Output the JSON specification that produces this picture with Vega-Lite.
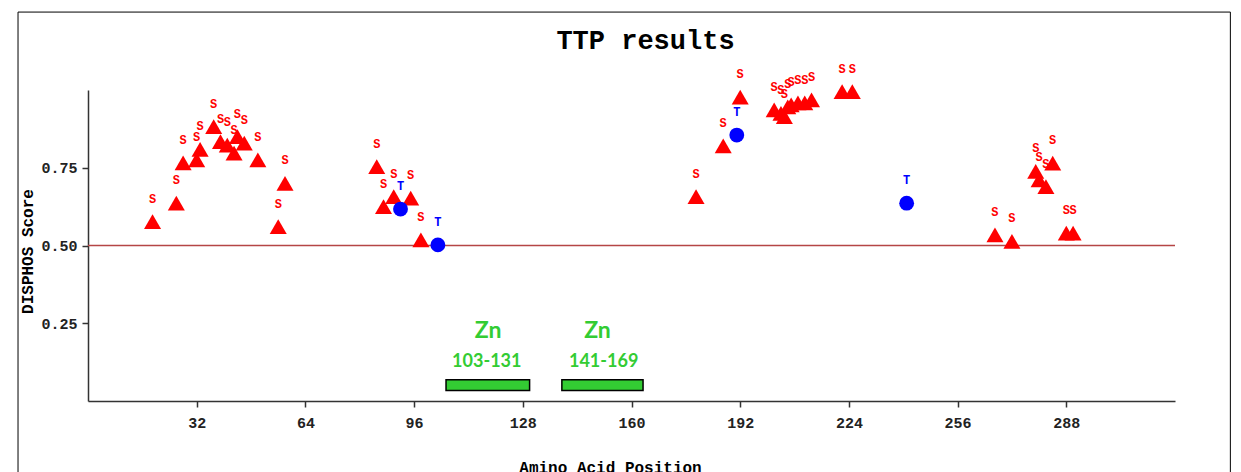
{
  "$schema": "https://vega.github.io/schema/vega-lite/v6.json",
  "width": 1087,
  "height": 311,
  "autosize": {"type": "none"},
  "padding": {"left": 88, "top": 90, "right": 66, "bottom": 71},
  "background": "white",
  "config": {"view": {"stroke": null}, "font": "Liberation Mono"},
  "title": {"text": "TTP results", "font": "Liberation Mono", "fontSize": 27, "fontWeight": "bold", "color": "#000000", "frame": "group", "anchor": "middle", "offset": -64, "baseline": "alphabetic", "dx": 14},
  "datasets": {
    "sites": [
      {"pos": 19, "score": 0.577, "res": "S"},
      {"pos": 26, "score": 0.636, "res": "S"},
      {"pos": 28, "score": 0.766, "res": "S"},
      {"pos": 32, "score": 0.775, "res": "S"},
      {"pos": 33, "score": 0.809, "res": "S"},
      {"pos": 37, "score": 0.882, "res": "S"},
      {"pos": 39, "score": 0.834, "res": "S"},
      {"pos": 41, "score": 0.823, "res": "S"},
      {"pos": 43, "score": 0.797, "res": "S"},
      {"pos": 44, "score": 0.85, "res": "S"},
      {"pos": 46, "score": 0.829, "res": "S"},
      {"pos": 50, "score": 0.775, "res": "S"},
      {"pos": 56, "score": 0.561, "res": "S"},
      {"pos": 58, "score": 0.7, "res": "S"},
      {"pos": 85, "score": 0.754, "res": "S"},
      {"pos": 87, "score": 0.625, "res": "S"},
      {"pos": 90, "score": 0.657, "res": "S"},
      {"pos": 95, "score": 0.652, "res": "S"},
      {"pos": 98, "score": 0.518, "res": "S"},
      {"pos": 179, "score": 0.657, "res": "S"},
      {"pos": 187, "score": 0.82, "res": "S"},
      {"pos": 192, "score": 0.977, "res": "S"},
      {"pos": 202, "score": 0.936, "res": "S"},
      {"pos": 204, "score": 0.925, "res": "S"},
      {"pos": 205, "score": 0.914, "res": "S"},
      {"pos": 206, "score": 0.946, "res": "S"},
      {"pos": 207, "score": 0.952, "res": "S"},
      {"pos": 209, "score": 0.959, "res": "S"},
      {"pos": 211, "score": 0.959, "res": "S"},
      {"pos": 213, "score": 0.968, "res": "S"},
      {"pos": 222, "score": 0.995, "res": "S"},
      {"pos": 225, "score": 0.995, "res": "S"},
      {"pos": 267, "score": 0.534, "res": "S"},
      {"pos": 272, "score": 0.513, "res": "S"},
      {"pos": 279, "score": 0.738, "res": "S"},
      {"pos": 280, "score": 0.711, "res": "S"},
      {"pos": 282, "score": 0.689, "res": "S"},
      {"pos": 284, "score": 0.765, "res": "S"},
      {"pos": 288, "score": 0.54, "res": "S"},
      {"pos": 290, "score": 0.54, "res": "S"},
      {"pos": 92, "score": 0.617, "res": "T"},
      {"pos": 103, "score": 0.502, "res": "T"},
      {"pos": 191, "score": 0.855, "res": "T"},
      {"pos": 241, "score": 0.636, "res": "T"}
    ],
    "zn": [
      {"pos": 105.4, "end": 130, "name": "Zn", "range": "103-131"},
      {"pos": 139.5, "end": 163.4, "name": "Zn", "range": "141-169"}
    ],
    "znnames": [
      {"pos": 117.8, "score": 0.226, "label": "Zn"},
      {"pos": 150.0, "score": 0.226, "label": "Zn"}
    ],
    "znranges": [
      {"pos": 117.4, "score": 0.124, "label": "103-131"},
      {"pos": 151.8, "score": 0.124, "label": "141-169"}
    ]
  },
  "layer": [
    {
      "data": {"values": [{}]},
      "mark": {"type": "rect", "fillOpacity": 0, "stroke": "#000000", "strokeWidth": 1},
      "encoding": {
        "x": {"datum": -20.6, "type": "quantitative",
          "scale": {"domain": [0, 320], "nice": false, "zero": false},
          "axis": {"values": [32, 64, 96, 128, 160, 192, 224, 256, 288], "grid": false,
            "domainColor": "#333333", "domainWidth": 1.5, "tickColor": "#333333", "tickWidth": 1.5, "tickSize": 6,
            "labelFont": "Liberation Mono", "labelFontSize": 15, "labelFontWeight": "bold", "labelColor": "#222222", "labelPadding": 8,
            "title": "Amino Acid Position", "titleFont": "Liberation Mono", "titleFontSize": 16, "titleFontWeight": "bold", "titleColor": "#000000",
            "titleX": 522, "titleY": 58, "titleBaseline": "top", "titleAlign": "center"}},
        "x2": {"datum": 336.3},
        "y": {"datum": 1.2506, "type": "quantitative",
          "scale": {"domain": [0, 1], "nice": false, "zero": false},
          "axis": {"values": [0.25, 0.5, 0.75], "format": ".2f", "grid": false,
            "domainColor": "#333333", "domainWidth": 1.5, "tickColor": "#333333", "tickWidth": 1.5, "tickSize": 6,
            "labelFont": "Liberation Mono", "labelFontSize": 15, "labelFontWeight": "bold", "labelColor": "#222222", "labelPadding": 5,
            "title": "DISPHOS Score", "titleFont": "Liberation Mono", "titleFontSize": 16, "titleFontWeight": "bold", "titleColor": "#000000",
            "titleX": -61, "titleY": 161, "titleAngle": 270, "titleAlign": "center", "titleBaseline": "middle"}},
        "y2": {"datum": -0.3}
      }
    },
    {
      "data": {"values": [{}]},
      "mark": {"type": "rule", "color": "#b54545", "strokeWidth": 1.5},
      "encoding": {"y": {"datum": 0.5, "type": "quantitative"}}
    },
    {
      "data": {"name": "zn"},
      "mark": {"type": "rect", "fill": "#33cc33", "stroke": "#000000", "strokeWidth": 1.5},
      "encoding": {
        "x": {"field": "pos", "type": "quantitative"},
        "x2": {"field": "end"},
        "y": {"datum": 0.068, "type": "quantitative"},
        "y2": {"datum": 0.034}
      }
    },
    {
      "data": {"name": "znnames"},
      "mark": {"type": "text", "font": "Lato", "fontSize": 23, "fontWeight": "bold", "color": "#33cc33", "baseline": "middle", "align": "center"},
      "encoding": {
        "x": {"field": "pos", "type": "quantitative"},
        "y": {"field": "score", "type": "quantitative"},
        "text": {"field": "label"}
      }
    },
    {
      "data": {"name": "znranges"},
      "mark": {"type": "text", "font": "Lato", "fontSize": 18, "fontWeight": "bold", "color": "#33cc33", "baseline": "middle", "align": "center"},
      "encoding": {
        "x": {"field": "pos", "type": "quantitative"},
        "y": {"field": "score", "type": "quantitative"},
        "text": {"field": "label"}
      }
    },
    {
      "data": {"name": "sites"},
      "mark": {"type": "point", "filled": true, "opacity": 1, "strokeWidth": 0},
      "encoding": {
        "x": {"field": "pos", "type": "quantitative"},
        "y": {"field": "score", "type": "quantitative"},
        "shape": {"field": "res", "type": "nominal", "scale": {"domain": ["S", "T"], "range": ["triangle-up", "circle"]}, "legend": null},
        "color": {"field": "res", "type": "nominal", "scale": {"domain": ["S", "T"], "range": ["#ff0000", "#0000ff"]}, "legend": null},
        "size": {"field": "res", "type": "nominal", "scale": {"domain": ["S", "T"], "range": [290, 220]}, "legend": null}
      }
    },
    {
      "data": {"name": "sites"},
      "mark": {"type": "text", "font": "Liberation Mono", "fontSize": 12, "fontWeight": "bold", "dy": -23, "baseline": "middle", "align": "center"},
      "encoding": {
        "x": {"field": "pos", "type": "quantitative"},
        "y": {"field": "score", "type": "quantitative"},
        "text": {"field": "res"},
        "color": {"field": "res", "type": "nominal", "scale": {"domain": ["S", "T"], "range": ["#ff2020", "#1a1aff"]}, "legend": null}
      }
    }
  ]
}
